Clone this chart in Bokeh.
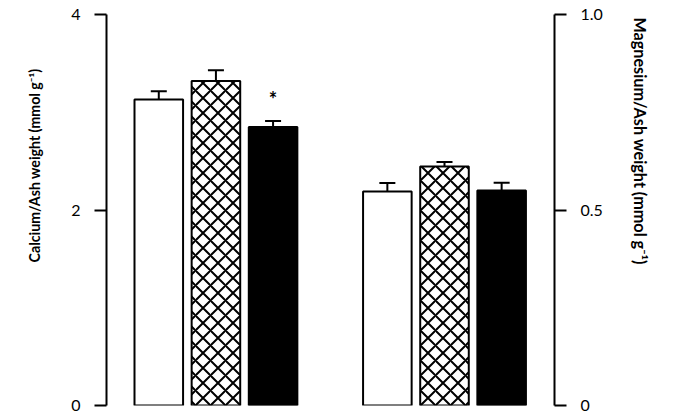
from bokeh.core.properties import value
from bokeh.embed import file_html
from bokeh.models import (ColumnDataSource, FixedTicker, LinearAxis, Range1d,
                          TeeHead, Title, Whisker)
from bokeh.plotting import figure
from bokeh.resources import INLINE

# Mineral content of bone ash, three groups per mineral
groups = ["control", "treated", "deficient"]
calcium_mean = [3.13, 3.32, 2.85]        # mmol g^-1
calcium_sem = [0.085, 0.11, 0.06]
magnesium_mean = [0.547, 0.611, 0.55]    # mmol g^-1
magnesium_sem = [0.022, 0.012, 0.02]
calcium_ticks = [0, 2, 4]
magnesium_ticks = [0, 0.5, 1.0]
significant = [False, False, True]       # calcium groups marked with *

# bar slots: calcium in slots 1-3, magnesium in slots 5-7
ca_x = [1 + i for i in range(len(groups))]
mg_x = [5 + i for i in range(len(groups))]

FONT = "Lato"
fills = ["white", "white", "black"]
hatches = [" ", "x", " "]

p = figure(width=674, height=416, output_backend="svg", toolbar_location=None,
           x_range=Range1d(0.085, 7.925), y_range=Range1d(0, 4),
           x_axis_location=None, y_axis_location=None,
           min_border_left=105, min_border_right=119,
           min_border_top=14, min_border_bottom=11)
p.extra_y_ranges = {"mg": Range1d(0, 1.0)}
p.outline_line_color = None
p.xgrid.visible = False
p.ygrid.visible = False
p.background_fill_color = "white"
p.border_fill_color = "white"


def style_axis(ax):
    ax.axis_line_width = 2
    ax.axis_line_color = "black"
    ax.major_tick_line_width = 2
    ax.major_tick_line_color = "black"
    ax.major_tick_out = 12
    ax.major_tick_in = 0
    ax.minor_tick_line_color = None
    ax.major_label_standoff = 14
    ax.major_label_text_font = FONT
    ax.major_label_text_font_size = "16px"
    ax.major_label_text_color = "black"


left = LinearAxis(ticker=FixedTicker(ticks=calcium_ticks))
style_axis(left)
p.add_layout(left, "left")

right = LinearAxis(y_range_name="mg", ticker=FixedTicker(ticks=magnesium_ticks),
                   major_label_overrides={0: "0", 0.5: "0.5", 1: "1.0"})
style_axis(right)
p.add_layout(right, "right")

# axis titles sit in the side panels, beyond the tick labels
p.add_layout(Title(text="Calcium/Ash weight (mmol g\u207b\u00b9)", align="right",
                   vertical_align="middle", offset=54, standoff=49,
                   text_font=FONT, text_font_style="bold",
                   text_font_size="14.2px", text_color="black"), "left")
p.add_layout(Title(text="Magnesium/Ash weight (mmol g\u207b\u00b9)", align="left",
                   vertical_align="middle", offset=3, standoff=48,
                   text_font=FONT, text_font_style="bold",
                   text_font_size="16.2px", text_color="black"), "right")

ca_src = ColumnDataSource(dict(x=ca_x, top=calcium_mean,
                               upper=[m + e for m, e in zip(calcium_mean, calcium_sem)],
                               fill=fills, hatch=hatches))
mg_src = ColumnDataSource(dict(x=mg_x, top=magnesium_mean,
                               upper=[m + e for m, e in zip(magnesium_mean, magnesium_sem)],
                               fill=fills, hatch=hatches))

bar_style = dict(width=0.85, fill_color="fill", line_color="black", line_width=2,
                 hatch_pattern="hatch", hatch_color="black", hatch_scale=15,
                 hatch_weight=2)
p.vbar(x="x", top="top", source=ca_src, **bar_style)
p.vbar(x="x", top="top", source=mg_src, y_range_name="mg", **bar_style)

for src, rng in ((ca_src, "default"), (mg_src, "mg")):
    w = Whisker(source=src, base="x", lower="top", upper="upper",
                dimension="height", line_width=2, line_color="black",
                lower_head=None,
                upper_head=TeeHead(size=16, line_width=2, line_color="black"))
    w.y_range_name = rng
    p.add_layout(w)

# significance marker above the calcium bars
star_x = [x for x, s in zip(ca_x, significant) if s]
star_y = [m + e for m, e, s in zip(calcium_mean, calcium_sem, significant) if s]
p.text(x=star_x, y=star_y, text=["*"], y_offset=-22, text_align="center",
       text_baseline="middle", text_font=value(FONT), text_font_style="bold",
       text_font_size="20px", text_color="black")

open("out.html", "w").write(file_html(p, INLINE))
